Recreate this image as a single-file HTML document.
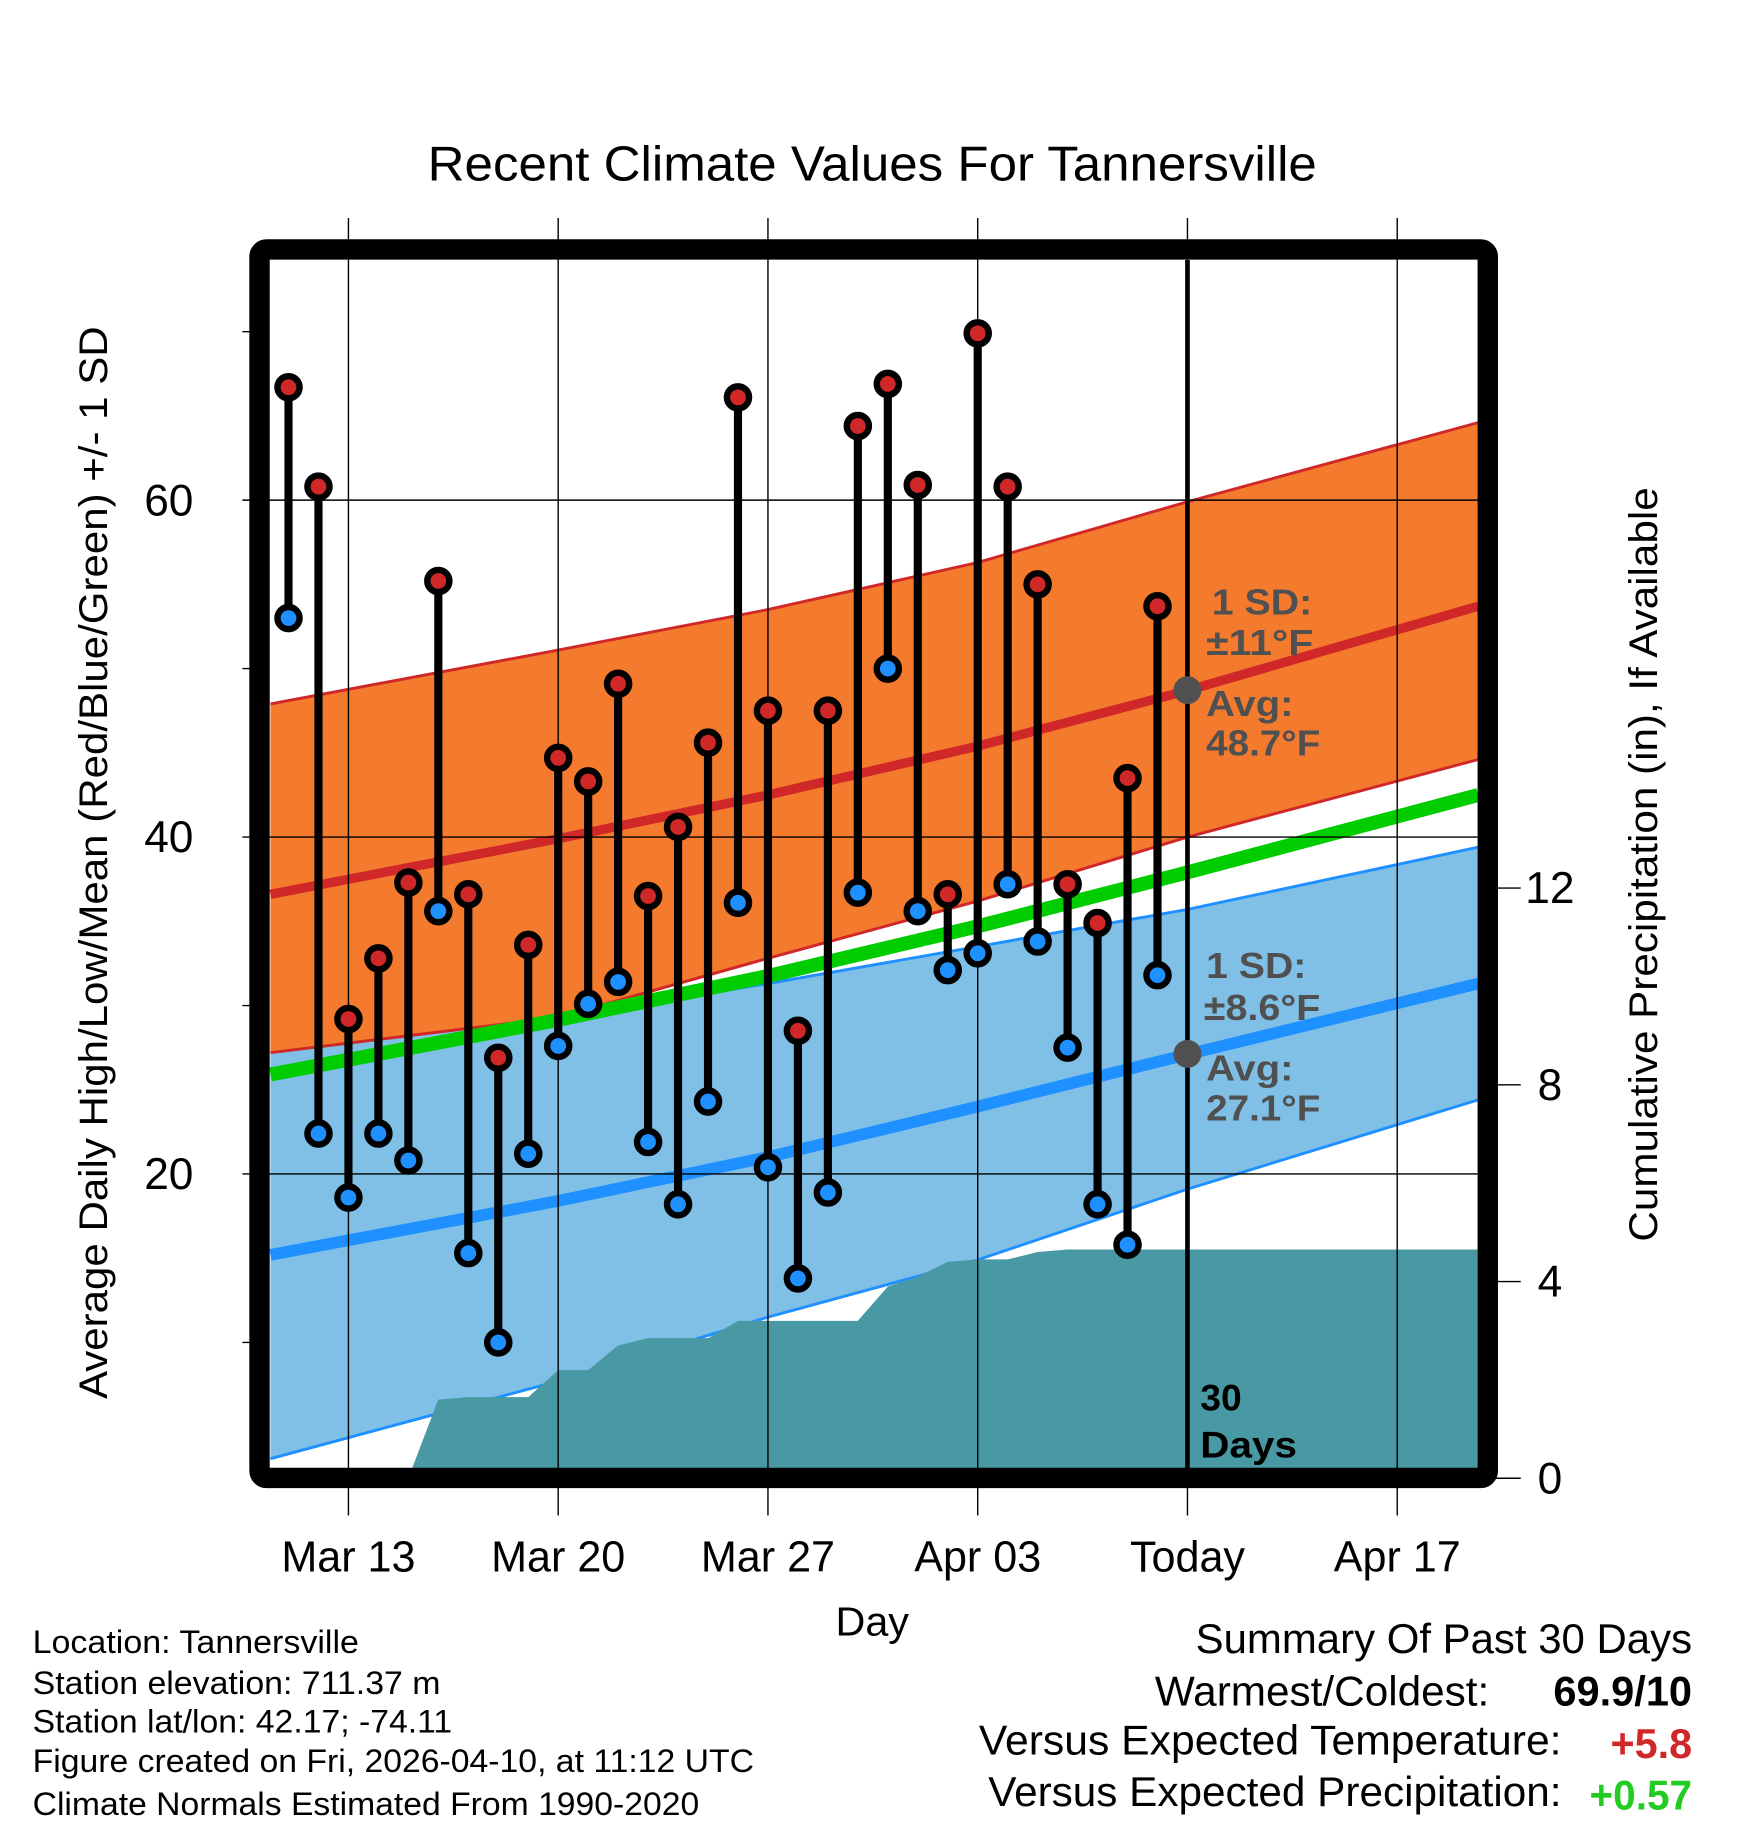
<!DOCTYPE html>
<html><head><meta charset="utf-8"><style>
html,body{margin:0;padding:0;background:#fff}
svg{display:block}
text{font-family:"Liberation Sans",sans-serif}
</style></head><body>
<svg id="chart" width="1748" height="1828" viewBox="0 0 1500 1568" preserveAspectRatio="none" xmlns="http://www.w3.org/2000/svg">
<g id="bands"></g>
<g id="precip"></g>
<g id="grid"></g>
<g id="marks"></g>
<g font-weight="bold" fill="#505050" font-size="31">
<circle cx="1019" cy="592" r="12" fill="#505050"/>
<circle cx="1019" cy="904" r="12" fill="#505050"/>
<text x="1040" y="527" textLength="86" lengthAdjust="spacingAndGlyphs">1 SD:</text>
<text x="1035" y="562" textLength="92" lengthAdjust="spacingAndGlyphs">±11°F</text>
<text x="1035" y="614" textLength="75" lengthAdjust="spacingAndGlyphs">Avg:</text>
<text x="1035" y="648" textLength="98" lengthAdjust="spacingAndGlyphs">48.7°F</text>
<text x="1035" y="839" textLength="86" lengthAdjust="spacingAndGlyphs">1 SD:</text>
<text x="1033" y="875" textLength="100" lengthAdjust="spacingAndGlyphs">±8.6°F</text>
<text x="1035" y="927" textLength="75" lengthAdjust="spacingAndGlyphs">Avg:</text>
<text x="1035" y="961" textLength="98" lengthAdjust="spacingAndGlyphs">27.1°F</text>
<text x="1030" y="1210" fill="#000" font-size="32">30</text>
<text x="1030" y="1250" fill="#000" font-size="32" textLength="83" lengthAdjust="spacingAndGlyphs">Days</text>
</g>
<rect x="222.7" y="214" width="1054" height="1053.7" rx="6" fill="none" stroke="#000" stroke-width="17.5"/>
<text x="367" y="155" font-size="42" textLength="763" lengthAdjust="spacingAndGlyphs">Recent Climate Values For Tannersville</text>
<text transform="translate(92,1200) rotate(-90)" font-size="34" textLength="920" lengthAdjust="spacingAndGlyphs">Average Daily High/Low/Mean (Red/Blue/Green) +/- 1 SD</text>
<text transform="translate(1422,1065) rotate(-90)" font-size="34" textLength="647" lengthAdjust="spacingAndGlyphs">Cumulative Precipitation (in), If Available</text>
<text x="717" y="1403" font-size="35" textLength="63" lengthAdjust="spacingAndGlyphs">Day</text>
<g font-size="28">
<text x="28" y="1418" textLength="280" lengthAdjust="spacingAndGlyphs">Location: Tannersville</text>
<text x="28" y="1453" textLength="350" lengthAdjust="spacingAndGlyphs">Station elevation: 711.37 m</text>
<text x="28" y="1486" textLength="360" lengthAdjust="spacingAndGlyphs">Station lat/lon: 42.17; -74.11</text>
<text x="28" y="1520" textLength="619" lengthAdjust="spacingAndGlyphs">Figure created on Fri, 2026-04-10, at 11:12 UTC</text>
<text x="28" y="1557" textLength="572" lengthAdjust="spacingAndGlyphs">Climate Normals Estimated From 1990-2020</text>
</g>
<g font-size="36">
<text x="1026" y="1418" textLength="426" lengthAdjust="spacingAndGlyphs">Summary Of Past 30 Days</text>
<text x="991" y="1463" textLength="287" lengthAdjust="spacingAndGlyphs">Warmest/Coldest:</text>
<text x="1333" y="1463" textLength="119" lengthAdjust="spacingAndGlyphs" font-weight="bold">69.9/10</text>
<text x="840" y="1505" textLength="500" lengthAdjust="spacingAndGlyphs">Versus Expected Temperature:</text>
<text x="1382" y="1508" textLength="70" lengthAdjust="spacingAndGlyphs" font-weight="bold" fill="#d02828">+5.8</text>
<text x="848" y="1549" textLength="492" lengthAdjust="spacingAndGlyphs">Versus Expected Precipitation:</text>
<text x="1364" y="1552" textLength="88" lengthAdjust="spacingAndGlyphs" font-weight="bold" fill="#22cc22">+0.57</text>
</g>
</svg>
<script>
// day offsets from Mar 13
const dayOffsets = [-2,-1,0,1,2,3,4,5,6,7,8,9,10,11,12,13,14,15,16,17,18,19,20,21,22,23,24,25,26,27];
const highs = [66.7,60.8,29.2,32.8,37.3,55.2,36.6,26.9,33.6,44.7,43.3,49.1,36.5,40.6,45.6,66.1,47.5,28.5,47.5,64.4,66.9,60.9,36.6,69.9,60.8,55.0,37.2,34.9,43.5,53.7];
const lows = [53.0,22.4,18.6,22.4,20.8,35.6,15.3,10.0,21.2,27.6,30.1,31.4,21.9,18.2,24.3,36.1,20.4,13.8,18.9,36.7,50.0,35.6,32.1,33.1,37.2,33.8,27.5,18.2,15.8,31.8];
const precipCum = [0,0,0,0,0,1.6,1.65,1.65,1.65,2.2,2.2,2.7,2.85,2.85,2.85,3.2,3.2,3.2,3.2,3.2,3.9,4.1,4.4,4.45,4.45,4.6,4.65,4.65,4.65,4.65];
const normDays = [-2.6,7,14,21,28,37.7];
const hiMean = [36.6,39.9,42.5,45.4,48.7,53.7];
const hiUpper = [47.9,51.1,53.5,56.3,59.9,64.6];
const hiLower = [27.2,29.3,32.8,36.2,40.0,44.6];
const loMean = [15.2,18.4,21.0,24.0,27.1,31.3];
const loUpper = [27.4,29.3,31.3,33.5,35.7,39.4];
const loLower = [3.1,7.7,11.5,14.9,19.1,24.4];
const xTickDays = [0,7,14,21,28,35];
const xTickLabels = ["Mar 13","Mar 20","Mar 27","Apr 03","Today","Apr 17"];
const yTicks = [20,40,60];
const yMinor = [10,30,50,70];
const pTicks = [0,4,8,12];

const NS="http://www.w3.org/2000/svg";
const X=d=>299+d*25.714;
const Y=v=>429+(60-v)*14.45;
const YP=p=>1268-p*42.19;
const XL=231, XR=1268;
function mk(tag,parent,attrs){const e=document.createElementNS(NS,tag);for(const k in attrs)e.setAttribute(k,attrs[k]);parent.appendChild(e);return e;}
const pts=(ds,vs,fy)=>ds.map((d,i)=>X(d).toFixed(1)+","+fy(vs[i]).toFixed(1)).join(" ");
const rev=a=>a.slice().reverse();

const bands=document.getElementById('bands');
let e;
e=mk('polygon',bands,{points:pts(normDays,loUpper,Y)+" "+pts(rev(normDays),rev(loLower),Y),fill:"#80c0e6"});


[loUpper,loLower].forEach(a=>{e=mk('polyline',bands,{points:pts(normDays,a,Y),fill:"none",stroke:"#1e90ff","stroke-width":2.5});

});
e=mk('polyline',bands,{points:pts(normDays,loMean,Y),fill:"none",stroke:"#1e90ff","stroke-width":10});


e=mk('polygon',bands,{points:pts(normDays,hiUpper,Y)+" "+pts(rev(normDays),rev(hiLower),Y),fill:"#f47a2e"});


[hiUpper,hiLower].forEach(a=>{e=mk('polyline',bands,{points:pts(normDays,a,Y),fill:"none",stroke:"#d02828","stroke-width":2.5});

});
e=mk('polyline',bands,{points:pts(normDays,hiMean,Y),fill:"none",stroke:"#d02828","stroke-width":8});


const meanVals=hiMean.map((h,i)=>(h+loMean[i])/2);
e=mk('polyline',bands,{points:pts(normDays,meanVals,Y),fill:"none",stroke:"#00cc00","stroke-width":12});



const pr=document.getElementById('precip');
let pp=pts(dayOffsets,precipCum,YP)+" "+XR+","+YP(precipCum[precipCum.length-1]).toFixed(1)+" "+XR+","+YP(0)+" "+X(dayOffsets[0])+","+YP(0);
e=mk('polygon',pr,{points:pp,fill:"#4899a3"});



const g=document.getElementById('grid');
xTickDays.forEach((d,i)=>{
  if(xTickLabels[i]==="Today"){
    e=mk('line',g,{x1:X(d),x2:X(d),y1:223,y2:1260,stroke:"#000","stroke-width":4});
    
    
    e=mk('line',g,{x1:X(d),x2:X(d),y1:187,y2:223,stroke:"#000","stroke-width":1.2});
    
    
    e=mk('line',g,{x1:X(d),x2:X(d),y1:1260,y2:1300,stroke:"#000","stroke-width":1.2});
    
    
  } else {
    e=mk('line',g,{x1:X(d),x2:X(d),y1:187,y2:1300,stroke:"#000","stroke-width":1.2});
    
    
  }
  e=mk('text',g,{x:X(d),y:1348,"text-anchor":"middle","font-size":37});
  e.textContent=xTickLabels[i];
  
  
});
yTicks.forEach(v=>{
  e=mk('line',g,{x1:208,x2:XR,y1:Y(v),y2:Y(v),stroke:"#000","stroke-width":1.2});
  
  
  e=mk('text',g,{x:166,y:Y(v)+13,"text-anchor":"end","font-size":38});
  e.textContent=v;
  
  
});
yMinor.forEach(v=>{
  e=mk('line',g,{x1:208,x2:222,y1:Y(v),y2:Y(v),stroke:"#000","stroke-width":1.2});
  
  
});
pTicks.forEach(p=>{
  e=mk('line',g,{x1:1277,x2:1305,y1:YP(p),y2:YP(p),stroke:"#000","stroke-width":1.2});
  
  
  e=mk('text',g,{x:1330,y:YP(p)+13,"text-anchor":"middle","font-size":38});
  e.textContent=p;
  
  
});

const m=document.getElementById('marks');
dayOffsets.forEach((d,i)=>{
  const x=X(d);
  e=mk('line',m,{x1:x,x2:x,y1:Y(highs[i]),y2:Y(lows[i]),stroke:"#000","stroke-width":7});
  
  
  e=mk('circle',m,{cx:x,cy:Y(highs[i]),r:9.5,fill:"#d02828",stroke:"#000","stroke-width":5.5});
  
  
  e=mk('circle',m,{cx:x,cy:Y(lows[i]),r:9.5,fill:"#1e90ff",stroke:"#000","stroke-width":5.5});
  
  
});
</script>
</body></html>
